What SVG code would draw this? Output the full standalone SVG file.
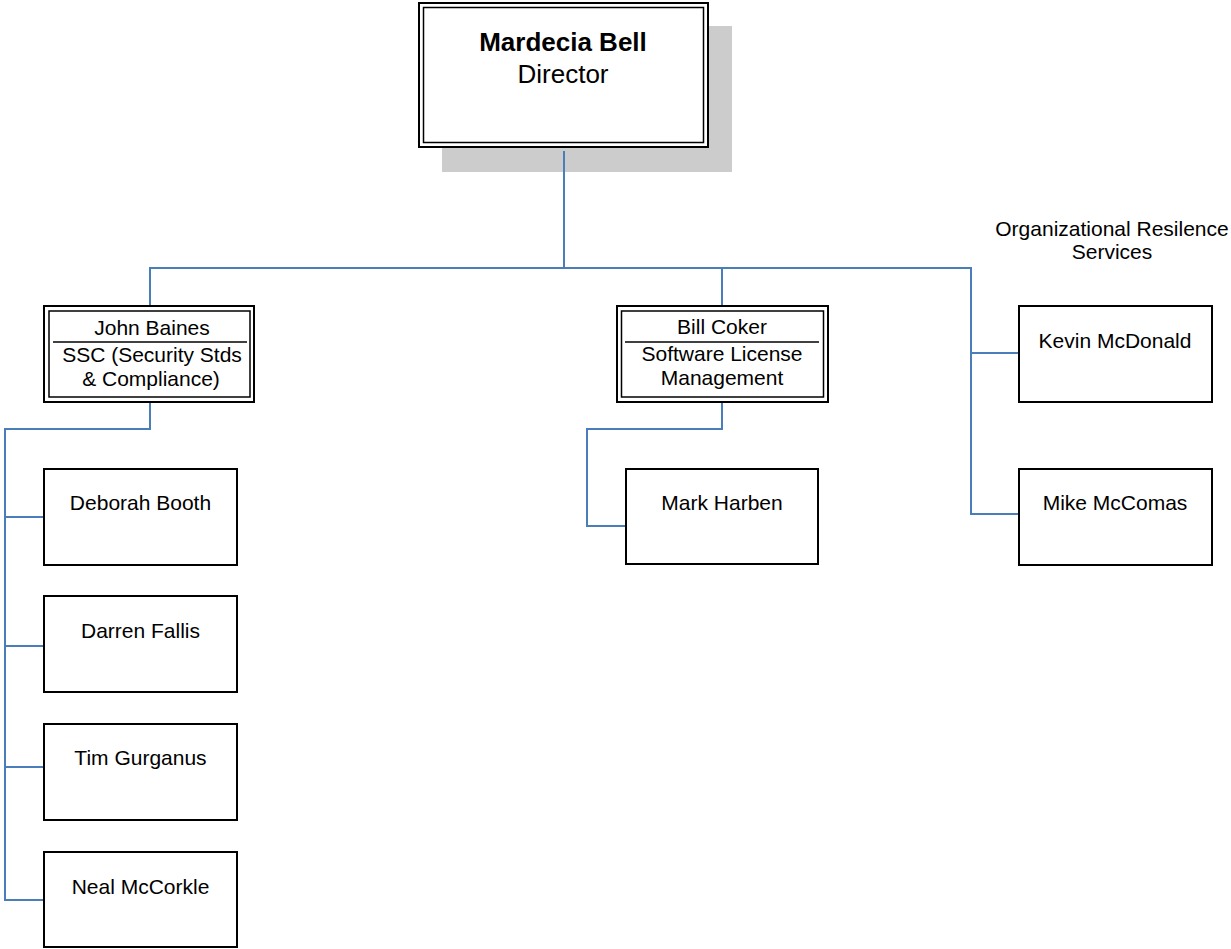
<svg xmlns="http://www.w3.org/2000/svg" width="1231" height="949" viewBox="0 0 1231 949">
<style>
  text { font-family: "Liberation Sans", Arial, sans-serif; fill: #000; text-anchor: middle; }
  .t21 { font-size: 21px; }
  .t26 { font-size: 26px; }
  .b { font-weight: bold; }
  .box { fill: #fff; stroke: #000; stroke-width: 2; }
  .inner { fill: none; stroke: #000; stroke-width: 1.5; }
  .conn { fill: none; stroke: #4a7ebb; stroke-width: 2; }
  .div { stroke: #000; stroke-width: 1.5; }
</style>
<rect width="1231" height="949" fill="#fff"/>

<g id="director">
  <rect x="442" y="26" width="290" height="146" fill="#cccccc"/>
  <rect class="box" x="419" y="3" width="289" height="144"/>
  <rect class="inner" x="423.5" y="7.5" width="280" height="135"/>
  <text class="t26 b" x="563" y="51">Mardecia Bell</text>
  <text class="t26" x="563" y="83">Director</text>
</g>

<g id="connectors">
  <path class="conn" d="M564 151 V268"/>
  <path class="conn" d="M150 306 V268 H971 V514 H1019"/>
  <path class="conn" d="M971 353 H1019"/>
  <path class="conn" d="M722 268 V306"/>
  <path class="conn" d="M150 402 V429 H5 V900 H44"/>
  <path class="conn" d="M5 517 H44"/>
  <path class="conn" d="M5 646 H44"/>
  <path class="conn" d="M5 767 H44"/>
  <path class="conn" d="M722 402 V429 H587 V526 H626"/>
</g>

<g id="john-baines">
  <rect class="box" x="44" y="306" width="210" height="96"/>
  <rect class="inner" x="49" y="311" width="201" height="86"/>
  <line class="div" x1="53" y1="342" x2="247" y2="342"/>
  <text class="t21" x="152" y="335">John Baines</text>
  <text class="t21" x="152" y="362">SSC (Security Stds</text>
  <text class="t21" x="151" y="386">&amp; Compliance)</text>
</g>

<g id="bill-coker">
  <rect class="box" x="617" y="306" width="211" height="96"/>
  <rect class="inner" x="621.5" y="311" width="202" height="86"/>
  <line class="div" x1="625" y1="342" x2="819" y2="342"/>
  <text class="t21" x="722" y="334">Bill Coker</text>
  <text class="t21" x="722" y="361">Software License</text>
  <text class="t21" x="722" y="385">Management</text>
</g>

<g id="ors-label">
  <text class="t21" x="1112" y="236">Organizational Resilence</text>
  <text class="t21" x="1112" y="259">Services</text>
</g>

<g id="kevin-mcdonald">
  <rect class="box" x="1019" y="306" width="193" height="96"/>
  <text class="t21" x="1115" y="348">Kevin McDonald</text>
</g>

<g id="mike-mccomas">
  <rect class="box" x="1019" y="469" width="193" height="96"/>
  <text class="t21" x="1115" y="510">Mike McComas</text>
</g>

<g id="mark-harben">
  <rect class="box" x="626" y="469" width="192" height="95"/>
  <text class="t21" x="722" y="510">Mark Harben</text>
</g>

<g id="deborah-booth">
  <rect class="box" x="44" y="469" width="193" height="96"/>
  <text class="t21" x="140.5" y="510">Deborah Booth</text>
</g>

<g id="darren-fallis">
  <rect class="box" x="44" y="596" width="193" height="96"/>
  <text class="t21" x="140.5" y="638">Darren Fallis</text>
</g>

<g id="tim-gurganus">
  <rect class="box" x="44" y="724" width="193" height="96"/>
  <text class="t21" x="140.5" y="765">Tim Gurganus</text>
</g>

<g id="neal-mccorkle">
  <rect class="box" x="44" y="852" width="193" height="95"/>
  <text class="t21" x="140.5" y="894">Neal McCorkle</text>
</g>
</svg>
